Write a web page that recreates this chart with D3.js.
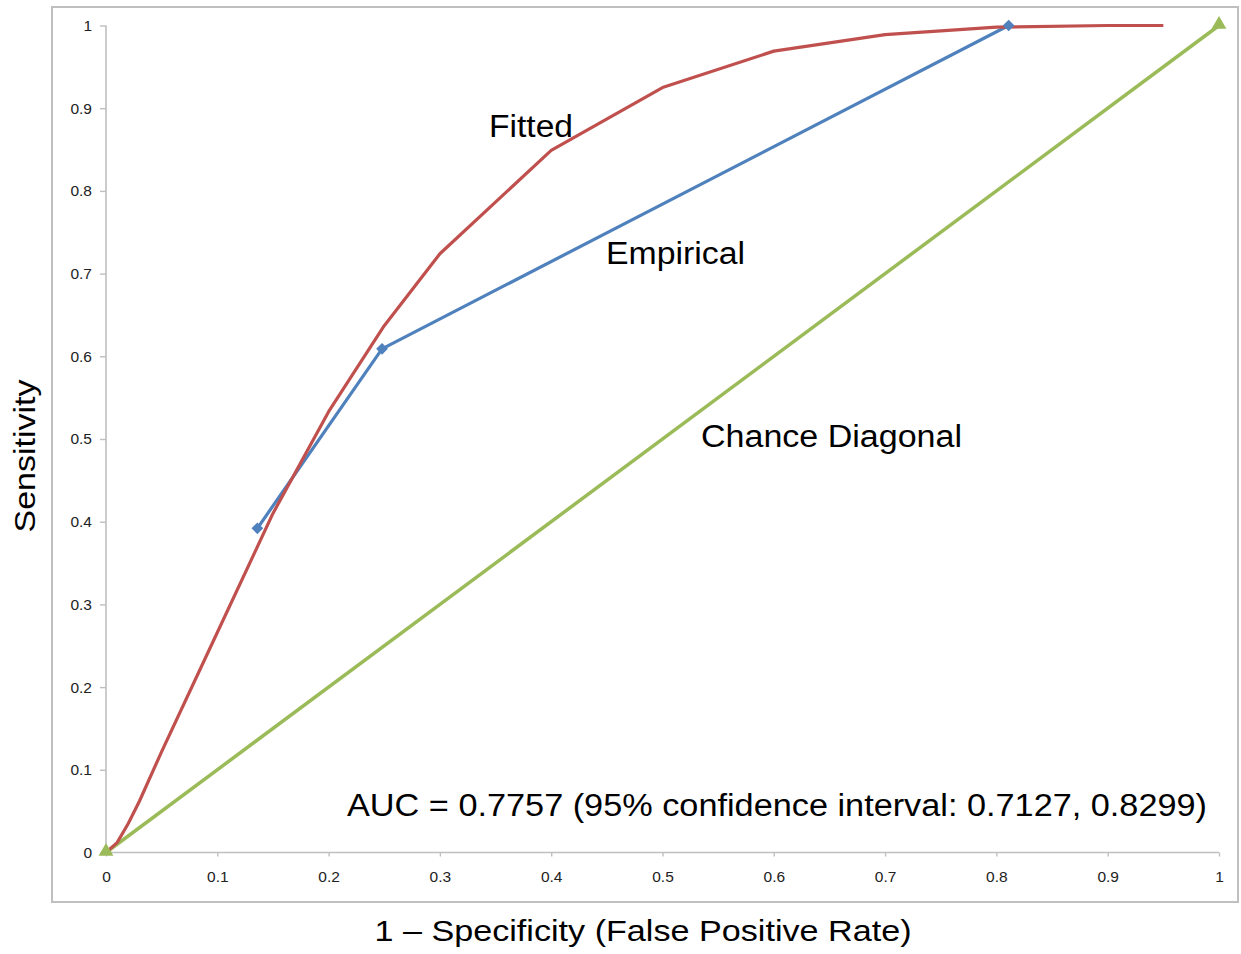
<!DOCTYPE html>
<html>
<head>
<meta charset="utf-8">
<script src="https://cdn.jsdelivr.net/npm/d3@7"></script>
<style>
  html, body { margin: 0; padding: 0; background: #ffffff; }
  svg { display: block; font-family: "Liberation Sans", Arial, Helvetica, sans-serif; }
</style>
</head>
<body>
<svg id="chart" width="1241" height="954"></svg>
<script>
// ROC curve data: false positive rate vs. sensitivity
const fittedFPR  = [0, 0.01, 0.02, 0.03, 0.05, 0.1, 0.15, 0.2, 0.25, 0.3, 0.4, 0.5, 0.6, 0.7, 0.8, 0.9, 0.95];
const fittedSens = [0, 0.012, 0.035, 0.062, 0.122, 0.266, 0.41, 0.533, 0.637, 0.724, 0.849, 0.925, 0.969, 0.989, 0.998, 1.0, 1.0];

const empiricalFPR  = [0.136, 0.248, 0.811];
const empiricalSens = [0.392, 0.609, 1.0];

const chanceFPR  = [0, 1];
const chanceSens = [0, 1];

const xTickValues = [0, 0.1, 0.2, 0.3, 0.4, 0.5, 0.6, 0.7, 0.8, 0.9, 1];
const xTickLabels = ["0", "0.1", "0.2", "0.3", "0.4", "0.5", "0.6", "0.7", "0.8", "0.9", "1"];
const yTickValues = [0, 0.1, 0.2, 0.3, 0.4, 0.5, 0.6, 0.7, 0.8, 0.9, 1];
const yTickLabels = ["0", "0.1", "0.2", "0.3", "0.4", "0.5", "0.6", "0.7", "0.8", "0.9", "1"];

const colors = { fitted: "#c0504d", empirical: "#4f81bd", chance: "#9bbb59", axis: "#bfbfbf" };

const svg = d3.select("#chart");

const x = d3.scaleLinear().domain([0, 1]).range([106, 1219]);
const y = d3.scaleLinear().domain([0, 1]).range([852.5, 25.5]);

// outer chart frame
svg.append("rect")
  .attr("x", 52).attr("y", 7)
  .attr("width", 1186).attr("height", 895)
  .attr("fill", "#ffffff")
  .attr("stroke", colors.axis)
  .attr("stroke-width", 2);

// axes
const yAxis = d3.axisLeft(y)
  .tickValues(yTickValues)
  .tickSize(6)
  .tickPadding(8)
  .tickFormat((d, i) => yTickLabels[i]);

const xAxis = d3.axisBottom(x)
  .tickValues(xTickValues)
  .tickSize(4)
  .tickPadding(14)
  .tickFormat((d, i) => xTickLabels[i]);

const gy = svg.append("g").attr("transform", `translate(${x(0)},0)`).call(yAxis);
const gx = svg.append("g").attr("transform", `translate(0,${y(0)})`).call(xAxis);

[gx, gy].forEach(g => {
  g.select(".domain").attr("stroke", colors.axis).attr("stroke-width", 1.6);
  g.selectAll(".tick line").attr("stroke", colors.axis).attr("stroke-width", 1.4);
  g.selectAll(".tick text")
    .attr("fill", "#222")
    .style("font-size", "15.5px")
    .style("font-family", '"Liberation Sans", Arial, sans-serif');
});
gy.select(".domain").attr("d", `M0,${y(1)}V${y(0)}`);
gx.select(".domain").attr("d", `M${x(0)},0H${x(1)}`);

// series
const line = d3.line().x(d => x(d[0])).y(d => y(d[1]));

const chancePts = d3.zip(chanceFPR, chanceSens);
const fittedPts = d3.zip(fittedFPR, fittedSens);
const empiricalPts = d3.zip(empiricalFPR, empiricalSens);

svg.append("path")
  .datum(chancePts)
  .attr("d", line)
  .attr("fill", "none")
  .attr("stroke", colors.chance)
  .attr("stroke-width", 3.5);

svg.append("path")
  .datum(empiricalPts)
  .attr("d", line)
  .attr("fill", "none")
  .attr("stroke", colors.empirical)
  .attr("stroke-width", 3.2)
  .attr("stroke-linejoin", "round");

svg.append("path")
  .datum(fittedPts)
  .attr("d", line)
  .attr("fill", "none")
  .attr("stroke", colors.fitted)
  .attr("stroke-width", 3.2)
  .attr("stroke-linejoin", "round");

// markers
const diamond = d3.symbol().type(d3.symbolSquare).size(68);
svg.append("g").selectAll("path")
  .data(empiricalPts)
  .join("path")
  .attr("d", diamond)
  .attr("transform", d => `translate(${x(d[0])},${y(d[1])}) rotate(45)`)
  .attr("fill", colors.empirical);

const triangle = d3.symbol().type(d3.symbolTriangle).size(95);
svg.append("g").selectAll("path")
  .data(chancePts)
  .join("path")
  .attr("d", triangle)
  .attr("transform", d => `translate(${x(d[0])},${y(d[1]) - 1})`)
  .attr("fill", colors.chance);

// curve labels and annotation
const notes = [
  { text: "Fitted", x: 489, y: 137, len: 84 },
  { text: "Empirical", x: 606, y: 264, len: 139 },
  { text: "Chance Diagonal", x: 701, y: 446.5, len: 261 },
  { text: "AUC = 0.7757 (95% confidence interval: 0.7127, 0.8299)", x: 347, y: 815.5, len: 860 }
];
svg.append("g").selectAll("text")
  .data(notes)
  .join("text")
  .attr("x", d => d.x)
  .attr("y", d => d.y)
  .attr("textLength", d => d.len)
  .attr("lengthAdjust", "spacingAndGlyphs")
  .attr("fill", "#000")
  .style("font-size", "31px")
  .text(d => d.text);

// axis titles
svg.append("text")
  .attr("x", 643)
  .attr("y", 941)
  .attr("text-anchor", "middle")
  .attr("textLength", 537)
  .attr("lengthAdjust", "spacingAndGlyphs")
  .style("font-size", "30px")
  .attr("fill", "#000")
  .text("1 – Specificity (False Positive Rate)");

svg.append("text")
  .attr("transform", "translate(35,456) rotate(-90)")
  .attr("text-anchor", "middle")
  .attr("textLength", 153)
  .attr("lengthAdjust", "spacingAndGlyphs")
  .style("font-size", "29px")
  .attr("fill", "#000")
  .text("Sensitivity");
</script>
</body>
</html>
